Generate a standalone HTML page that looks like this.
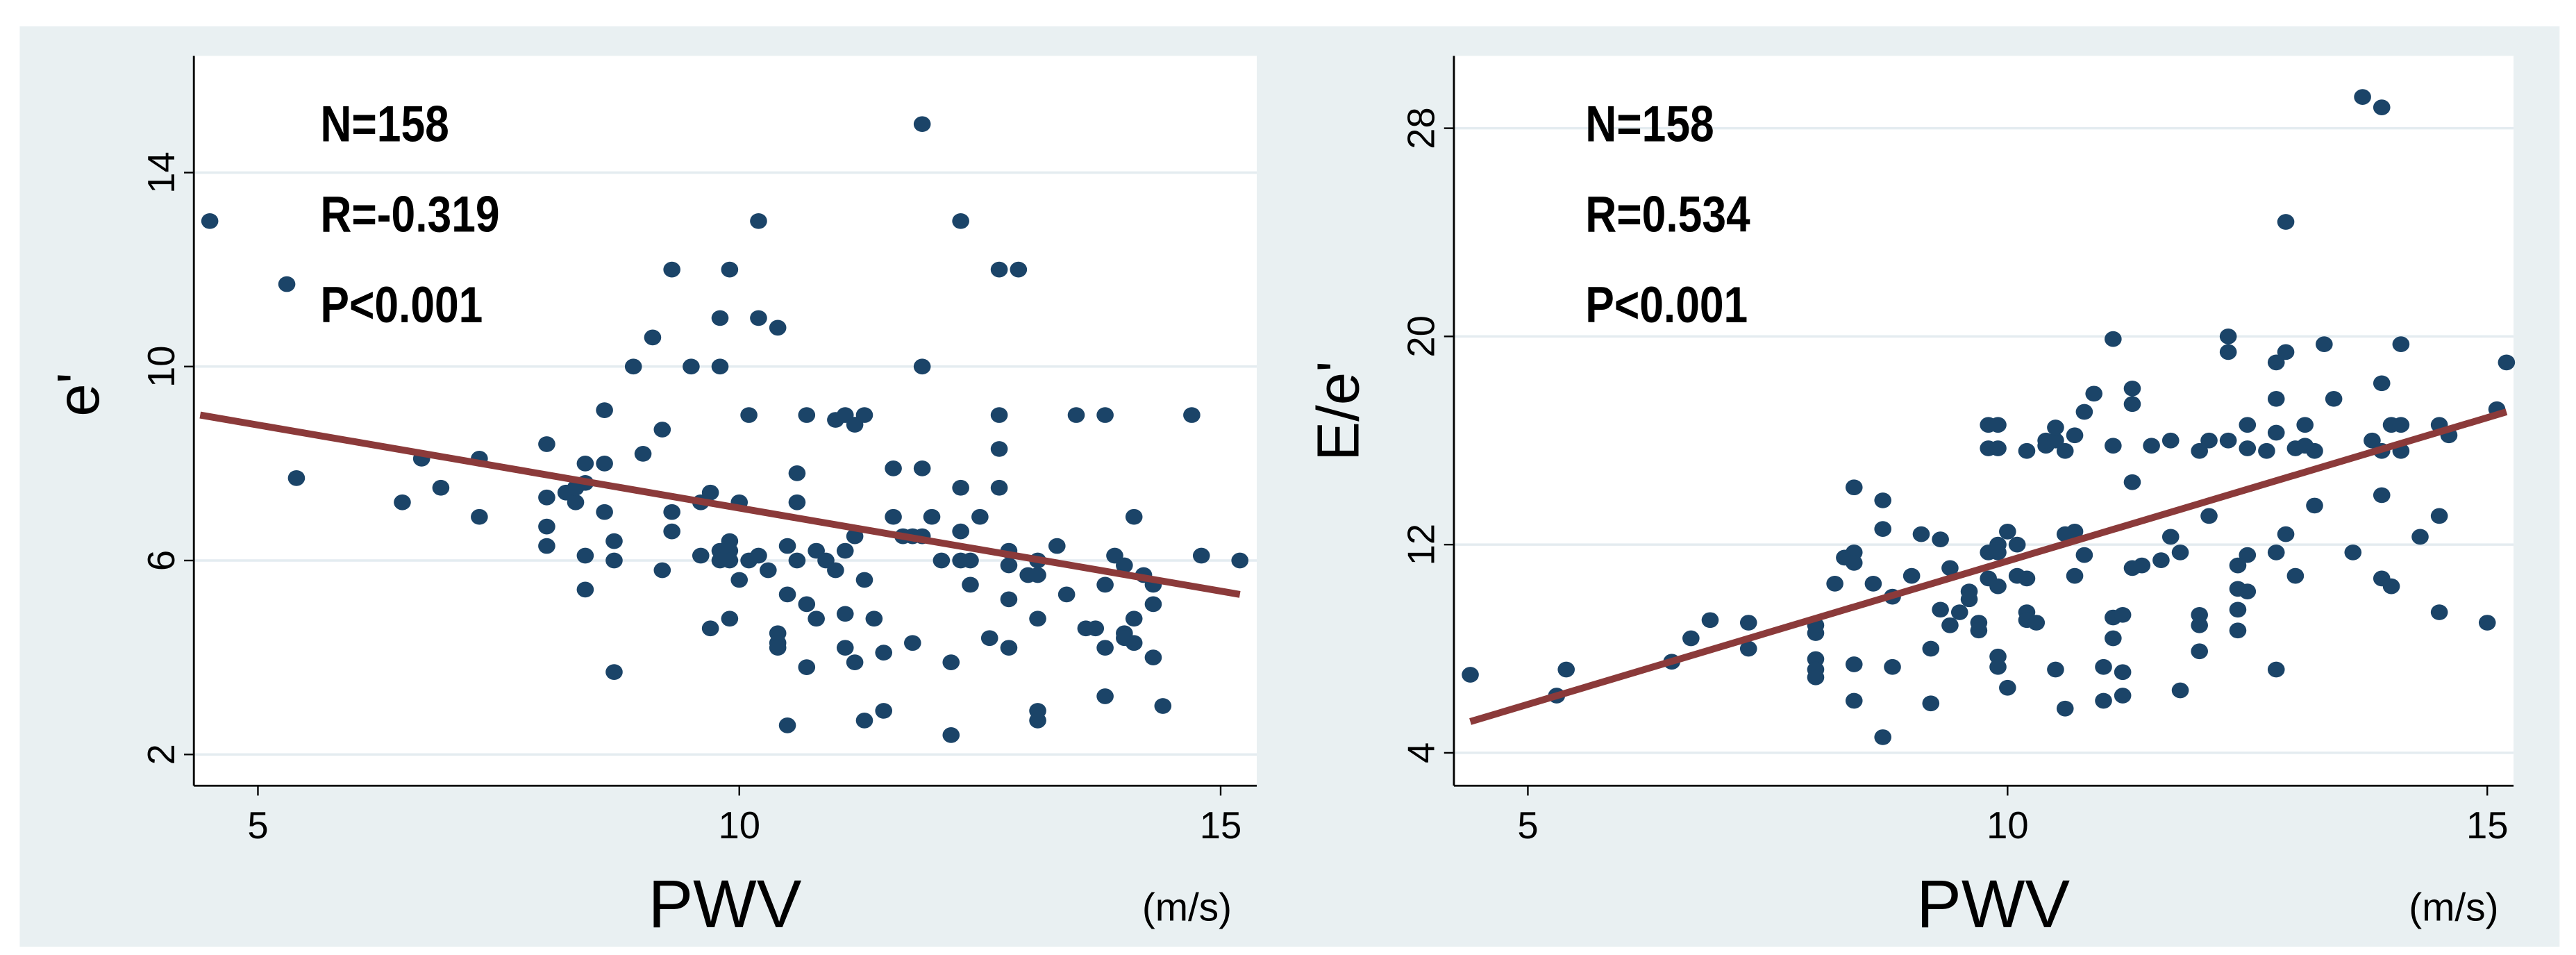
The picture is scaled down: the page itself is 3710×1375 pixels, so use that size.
<!DOCTYPE html>
<html><head><meta charset="utf-8"><style>
html,body{margin:0;padding:0;background:#fff;}
svg{display:block;}
text{font-family:"Liberation Sans",sans-serif;}
</style></head><body>
<svg id="fig" width="3710" height="1375" viewBox="0 0 1568 581" preserveAspectRatio="none" xmlns="http://www.w3.org/2000/svg">
<rect x="12" y="16" width="1546" height="560" fill="#e9f0f2"/>
<g id="left"></g>
<g id="right"></g>
</svg>
<script>
const NS="http://www.w3.org/2000/svg";
const leftX=[4.5,5.3,5.4,6.5,6.7,6.9,7.3,7.3,8.0,8.0,8.0,8.0,8.2,8.3,8.3,8.4,8.4,8.4,8.6,8.7,8.7,8.6,8.3,8.4,8.6,8.7,8.9,9.0,9.1,9.2,9.2,9.3,9.3,9.3,9.5,9.6,9.6,9.7,9.7,9.8,9.8,9.8,9.8,9.9,9.9,9.9,9.9,9.9,10.0,10.0,10.1,10.1,10.2,10.2,10.2,10.3,10.4,10.4,10.4,10.4,10.5,10.5,10.5,10.6,10.6,10.6,10.7,10.7,10.7,10.8,10.8,10.9,11.0,11.0,11.1,11.1,11.1,11.1,11.2,11.2,11.2,11.3,11.3,11.3,11.4,11.5,11.5,11.6,11.6,11.7,11.8,11.8,11.9,11.9,11.9,11.9,12.0,12.1,12.2,12.2,12.3,12.3,12.3,12.3,12.4,12.4,12.5,12.6,12.7,12.7,12.7,12.7,12.8,12.8,12.8,12.8,12.9,13.0,13.1,13.1,13.1,13.1,13.1,13.3,13.4,13.5,13.6,13.7,13.8,13.8,13.8,13.8,13.9,14.0,14.0,14.0,14.1,14.1,14.1,14.2,14.3,14.3,14.3,14.4,14.7,14.8,15.2];
const leftY=[13.0,11.7,7.7,7.2,8.1,7.5,8.1,6.9,8.4,7.3,6.7,6.3,7.4,7.2,7.5,7.6,6.1,5.4,9.1,6.0,3.7,8.0,7.5,8.0,7.0,6.4,10.0,8.2,10.6,8.7,5.8,12.0,7.0,6.6,10.0,7.2,6.1,7.4,4.6,11.0,10.0,6.2,6.0,12.0,6.4,6.2,6.0,4.8,7.2,5.6,9.0,6.0,13.0,11.0,6.1,5.8,10.8,4.5,4.3,4.2,6.3,5.3,2.6,7.8,7.2,6.0,9.0,5.1,3.8,6.2,4.8,6.0,8.9,5.8,9.0,6.2,4.9,4.2,8.8,6.5,3.9,9.0,5.6,2.7,4.8,2.9,4.1,7.9,6.9,6.5,4.3,6.5,15.0,10.0,7.9,6.5,6.9,6.0,3.9,2.4,13.0,7.5,6.6,6.0,6.0,5.5,6.9,4.4,12.0,9.0,8.3,7.5,6.2,5.9,5.2,4.2,12.0,5.7,6.0,5.7,4.8,2.9,2.7,6.3,5.3,9.0,4.6,4.6,9.0,5.5,4.2,3.2,6.1,5.9,4.5,4.4,6.9,4.8,4.3,5.7,5.5,5.1,4.0,3.0,9.0,6.1,6.0];
const leftFitX=[4.4,15.2];
const leftFitY=[9.0,5.3];
const leftYTicks=[2,6,10,14];
const rightX=[4.4,5.3,5.4,6.5,6.7,6.9,7.3,7.3,8.0,8.0,8.0,8.0,8.0,8.2,8.3,8.4,8.4,8.4,8.4,8.4,8.6,8.7,8.7,8.7,8.8,8.8,9.0,9.1,9.2,9.2,9.3,9.3,9.4,9.4,9.5,9.6,9.6,9.7,9.7,9.8,9.8,9.8,9.8,9.9,9.9,9.9,9.9,9.9,9.9,9.9,10.0,10.0,10.1,10.1,10.2,10.2,10.2,10.2,10.3,10.4,10.4,10.5,10.5,10.5,10.6,10.6,10.6,10.7,10.7,10.7,10.8,10.8,10.9,11.0,11.0,11.1,11.1,11.1,11.1,11.2,11.2,11.2,11.3,11.3,11.3,11.3,11.4,11.5,11.6,11.7,11.7,11.8,11.8,12.0,12.0,12.0,12.0,12.1,12.1,12.3,12.3,12.3,12.4,12.4,12.4,12.4,12.5,12.5,12.5,12.5,12.7,12.8,12.8,12.8,12.8,12.8,12.9,12.9,12.9,13.0,13.0,13.1,13.1,13.2,13.2,13.3,13.4,13.6,13.7,13.8,13.9,13.9,13.9,13.9,13.9,14.0,14.0,14.1,14.1,14.1,14.3,14.5,14.5,14.5,14.6,15.0,15.1,15.2];
const rightY=[7.0,6.2,7.2,7.5,8.4,9.1,8.0,9.0,8.6,8.9,7.6,7.2,6.9,10.5,11.5,11.7,11.3,14.2,7.4,6.0,10.5,13.7,12.6,4.6,7.3,10.0,10.8,12.4,8.0,5.9,12.2,9.5,11.1,8.9,9.4,10.2,9.9,9.0,8.7,11.7,10.7,16.6,15.7,16.6,15.7,12.0,11.7,10.4,7.7,7.3,12.5,6.5,12.0,10.8,15.6,10.7,9.4,9.1,9.0,15.8,16.0,16.0,7.2,16.5,15.6,12.4,5.7,12.5,16.2,10.8,11.6,17.1,17.8,7.3,6.0,19.9,15.8,9.2,8.4,6.2,9.3,7.1,18.0,17.4,14.4,11.1,11.2,15.8,11.4,16.0,12.3,11.7,6.4,15.6,9.3,8.9,7.9,16.0,13.1,20.0,19.4,16.0,11.2,10.3,9.5,8.7,16.6,15.7,10.2,11.6,15.6,19.0,17.6,16.3,11.7,7.2,19.4,24.4,12.4,15.7,10.8,16.6,15.8,15.6,13.5,19.7,17.6,11.7,29.2,16.0,28.8,18.2,15.6,13.9,10.7,16.6,10.4,16.6,15.6,19.7,12.3,16.6,9.4,13.1,16.2,9.0,17.2,19.0];
const rightFitX=[4.4,15.2];
const rightFitY=[5.2,17.1];
const rightYTicks=[4,12,20,28];
const xTicks=[5,10,15];

function mk(parent,tag,attrs){const e=document.createElementNS(NS,tag);for(const k in attrs)e.setAttribute(k,attrs[k]);parent.appendChild(e);return e;}

function panel(g,cfg){
  const sx=v=>cfg.x0+(v-5)*(cfg.x1-cfg.x0)/5;
  const sy=v=>cfg.y0+(v-cfg.t0)*(cfg.y1-cfg.y0)/(cfg.t1-cfg.t0);
  let r=mk(g,'rect',{x:cfg.ax,y:34,width:cfg.ar-cfg.ax,height:478-34,fill:'#ffffff'});
  
  
  cfg.yt.forEach(t=>{
    let l=mk(g,'line',{x1:cfg.ax,x2:cfg.ar,y1:sy(t),y2:sy(t),stroke:'#e4ecf0','stroke-width':1.5});
    
    
    let tk=mk(g,'line',{x1:cfg.ax-6,x2:cfg.ax,y1:sy(t),y2:sy(t),stroke:'#000','stroke-width':1});
    
    
    let tx=mk(g,'text',{x:0,y:0,'font-size':23,'text-anchor':'middle',transform:`translate(${cfg.ax-12},${sy(t)}) rotate(-90)`});
    tx.textContent=t;
    
    
  });
  xTicks.forEach(t=>{
    let tk=mk(g,'line',{x1:sx(t),x2:sx(t),y1:478,y2:484,stroke:'#000','stroke-width':1});
    
    
    let tx=mk(g,'text',{x:sx(t),y:510,'font-size':23,'text-anchor':'middle'});
    tx.textContent=t;
    
    
  });
  let a1=mk(g,'line',{x1:cfg.ax,x2:cfg.ax,y1:34,y2:478,stroke:'#000','stroke-width':1.2});
  
  
  let a2=mk(g,'line',{x1:cfg.ax,x2:cfg.ar,y1:478,y2:478,stroke:'#000','stroke-width':1.2});
  
  
  cfg.X.forEach((v,i)=>{
    let c=mk(g,'ellipse',{cx:sx(v),cy:sy(cfg.Y[i]),rx:5.2,ry:4.8,fill:'#1b4468'});
    
    
  });
  let fl=mk(g,'line',{x1:sx(cfg.fx[0]),y1:sy(cfg.fy[0]),x2:sx(cfg.fx[1]),y2:sy(cfg.fy[1]),stroke:'#8b3a3a','stroke-width':4.2});
  
  
  cfg.stats.forEach((s,i)=>{
    let t=mk(g,'text',{x:0,y:0,'font-size':31,'font-weight':'bold',transform:`translate(${cfg.tx},${86+i*55}) scale(0.85,1)`});
    t.textContent=s;
    
    
  });
  let yt=mk(g,'text',{x:0,y:0,'font-size':36,'text-anchor':'middle',transform:`translate(${cfg.ax-58},${cfg.ymid}) rotate(-90)`});
  yt.textContent=cfg.ylab;
  
  
  let xt=mk(g,'text',{x:sx(9.85),y:564,'font-size':41,'text-anchor':'middle'});
  xt.textContent='PWV';
  
  
  let un=mk(g,'text',{x:sx(14.65),y:560,'font-size':24,'text-anchor':'middle'});
  un.textContent='(m/s)';
  
  
}
panel(document.getElementById('left'),{x0:157,x1:450,ax:118,ar:765,t0:2,t1:14,y0:459,y1:105,yt:leftYTicks,X:leftX,Y:leftY,fx:leftFitX,fy:leftFitY,tx:195,stats:['N=158','R=-0.319','P<0.001'],ylab:"e'",ymid:240});
panel(document.getElementById('right'),{x0:930,x1:1222,ax:885,ar:1530,t0:4,t1:28,y0:458,y1:78,yt:rightYTicks,X:rightX,Y:rightY,fx:rightFitX,fy:rightFitY,tx:965,stats:['N=158','R=0.534','P<0.001'],ylab:"E/e'",ymid:250});
</script>
</body></html>
